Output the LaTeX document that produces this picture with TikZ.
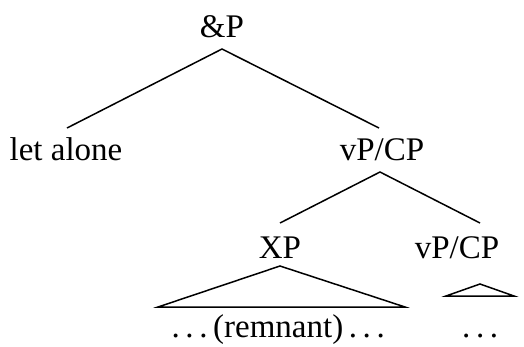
\documentclass[tikz,border=0pt]{standalone}
\usepackage{fontspec}
\setmainfont{Liberation Serif}
\newcommand{\spdots}{.\kern.17em.\kern.17em.\kern.17em}
\begin{document}
\begin{tikzpicture}[x=1pt,y=-1pt,
  lab/.style={anchor=base,inner sep=0pt,font=\fontsize{33}{39}\selectfont},
  edge/.style={line width=1.5pt,line join=miter}]
\useasboundingbox (0,0) rectangle (524,346);
% labels
\node[lab] (andP) at (222,37) {\&P};
\node[lab] (let) at (66,160) {let alone};
\node[lab] (vp1) at (382,160) {vP/CP};
\node[lab] (xp) at (280,258) {XP};
\node[lab] (vp2) at (457,258) {vP/CP};
\node[lab] (rem) at (281,337) {\spdots(remnant)\,\spdots};
\node[lab] (dots) at (483,337) {\spdots};
% connector ends
\coordinate (a0) at (222,49);
\coordinate (a1) at (67,128);
\coordinate (a2) at (379,128);
\coordinate (b0) at (380,172);
\coordinate (b1) at (280,223);
\coordinate (b2) at (480,223);
\coordinate (t0) at (280,266);
\coordinate (t1) at (158,307);
\coordinate (t2) at (405,307);
\coordinate (s0) at (480,284);
\coordinate (s1) at (446,296);
\coordinate (s2) at (514,296);
\draw[edge] (a1) -- (a0) -- (a2);
\draw[edge] (b1) -- (b0) -- (b2);
\draw[edge] (t0) -- (t1) -- (t2) -- cycle;
\draw[edge] (s0) -- (s1) -- (s2) -- cycle;
\end{tikzpicture}
\end{document}
